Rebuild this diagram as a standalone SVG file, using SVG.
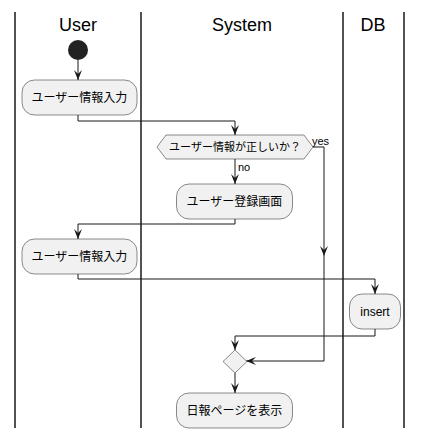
<svg xmlns="http://www.w3.org/2000/svg" width="422" height="439" viewBox="0 0 422 439">
<style>
.lane{stroke:#181818;stroke-width:1.5;fill:none}
.hdr{font-family:"Liberation Sans",Arial,sans-serif;font-size:18px;fill:#000;text-anchor:middle}
.act{fill:#F1F1F1;stroke:#181818;stroke-width:0.5}
.txt{font-family:"Noto Sans CJK JP","Liberation Sans",sans-serif;font-size:12px;fill:#000;text-anchor:middle}
.lbl{font-family:"Liberation Sans",Arial,sans-serif;font-size:11px;fill:#000}
.con{stroke:#181818;stroke-width:1;fill:none;marker-end:url(#ah)}
</style>
<defs>
<marker id="ah" viewBox="-11 -5 12 10" refX="0" refY="0" markerWidth="12" markerHeight="10" markerUnits="userSpaceOnUse" orient="auto">
<path d="M0,0 L-10,-4 L-6,0 L-10,4 Z" fill="#181818"/>
</marker>
</defs>
<g id="lanes">
<line class="lane" x1="15" y1="12" x2="15" y2="428"/>
<line class="lane" x1="141" y1="12" x2="141" y2="428"/>
<line class="lane" x1="343" y1="12" x2="343" y2="428"/>
<line class="lane" x1="404" y1="12" x2="404" y2="428"/>
<text class="hdr" x="78" y="31">User</text>
<text class="hdr" x="242" y="31">System</text>
<text class="hdr" x="373" y="31">DB</text>
</g>
<g id="connectors">
<path class="con" d="M78,60 L78,80"/>
<path class="con" d="M78,115 L78,121 L235,121 L235,135"/>
<path class="con" d="M313,147 L324,147 L324,361 L246,361"/>
<polygon points="324,256 320,246 324,250 328,246" fill="#181818"/>
<text class="lbl" x="312" y="145">yes</text>
<path class="con" d="M235,159 L235,184"/>
<text class="lbl" x="238" y="171">no</text>
<path class="con" d="M235,219 L235,224 L78,224 L78,239"/>
<path class="con" d="M78,274 L78,279 L375,279 L375,294"/>
<path class="con" d="M375,329 L375,336 L235,336 L235,350"/>
<path class="con" d="M235,373 L235,393"/>
</g>
<g id="start"><circle cx="78" cy="50" r="10" fill="#222222"/></g>
<g id="input1">
<rect class="act" x="22" y="80" width="115" height="35" rx="12.5"/>
<text class="txt" x="79.5" y="102">ユーザー情報入力</text>
</g>
<g id="check">
<polygon class="act" points="157,147 166,135 304,135 313,147 304,159 166,159"/>
<text class="txt" x="235" y="151" style="font-size:11px">ユーザー情報が正しいか？</text>
</g>
<g id="register">
<rect class="act" x="176.5" y="184" width="116" height="35" rx="12.5"/>
<text class="txt" x="234.5" y="206">ユーザー登録画面</text>
</g>
<g id="input2">
<rect class="act" x="22" y="239" width="115" height="35" rx="12.5"/>
<text class="txt" x="79.5" y="261">ユーザー情報入力</text>
</g>
<g id="insert">
<rect class="act" x="349.5" y="294" width="51" height="35" rx="12.5"/>
<text class="txt" x="375" y="316" style="font-family:'Liberation Sans',Arial,sans-serif">insert</text>
</g>
<g id="merge">
<polygon class="act" points="235,350 247,361.5 235,373 223,361.5"/>
</g>
<g id="report">
<rect class="act" x="176.5" y="393" width="116" height="35" rx="12.5"/>
<text class="txt" x="234.5" y="415">日報ページを表示</text>
</g>
</svg>
